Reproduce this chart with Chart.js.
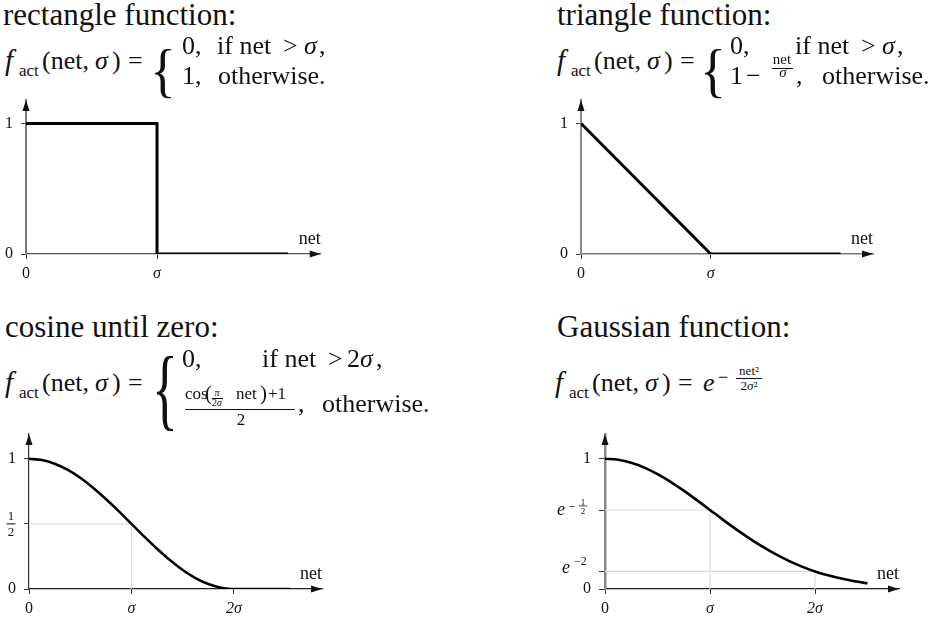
<!DOCTYPE html>
<html><head><meta charset="utf-8">
<script src="https://cdn.jsdelivr.net/npm/chart.js@4.4.1/dist/chart.umd.min.js"></script>
<style>
html,body{margin:0;padding:0;background:#fff;}
#page{position:relative;width:941px;height:626px;overflow:hidden;font-family:"Liberation Serif",serif;color:#111;}
.t{position:absolute;white-space:pre;}
.bar{position:absolute;height:0;border-top:1px solid #111;}
.box{position:absolute;}
</style></head><body><div id="page">
<div class="box" style="left:0;top:90px"><canvas id="c1" width="340" height="190"></canvas></div>
<div class="box" style="left:550px;top:90px"><canvas id="c2" width="340" height="190"></canvas></div>
<div class="box" style="left:0;top:425px"><canvas id="c3" width="340" height="190"></canvas></div>
<div class="box" style="left:550px;top:425px"><canvas id="c4" width="370" height="190"></canvas></div>
</div>
<script>
// ---------------- data ----------------
const rectNet = [0, 1, 1, 2];
const rectAct = [1, 1, 0, 0];
const triNet = [0, 1, 2];
const triAct = [1, 0, 0];
const cosNet = [0, 0.125, 0.25, 0.375, 0.5, 0.625, 0.75, 0.875, 1, 1.125, 1.25, 1.375, 1.5, 1.625, 1.75, 1.875, 2, 2.25, 2.55];
const cosAct = [1, 0.990, 0.962, 0.916, 0.854, 0.778, 0.691, 0.598, 0.5, 0.402, 0.309, 0.222, 0.146, 0.084, 0.038, 0.010, 0, 0, 0];
const gaussNet = [0, 0.125, 0.25, 0.375, 0.5, 0.625, 0.75, 0.875, 1, 1.125, 1.25, 1.375, 1.5, 1.625, 1.75, 1.875, 2, 2.125, 2.25, 2.375, 2.5];
const gaussAct = [1, 0.992, 0.969, 0.932, 0.882, 0.823, 0.755, 0.682, 0.607, 0.531, 0.458, 0.389, 0.325, 0.267, 0.216, 0.172, 0.135, 0.105, 0.080, 0.060, 0.044];

const sigmaTicks = [0, 1];        const sigmaTickLabels = ['0', 'σ'];
const twoSigmaTicks = [0, 1, 2];  const twoSigmaTickLabels = ['0', 'σ', '2σ'];
const unitTicks = [0, 1];         const unitTickLabels = ['0', '1'];
const cosYTicks = [0, 0.5, 1];    const cosYTickLabels = ['0', '1/2', '1'];
const gaussYTicks = [0, 0.1353, 0.6065, 1]; const gaussYTickLabels = ['0', 'e^-2', 'e^-1/2', '1'];
const cosGuideNet = [1];          const cosGuideAct = [0.5];
const gaussGuideNet = [1, 2];     const gaussGuideAct = [0.6065, 0.1353];
const xAxisTitle = 'net';

// ---------------- text (HTML) ----------------
const page = document.getElementById('page');
function put(x, base, size, html, it) {
  const d = document.createElement('div');
  d.className = 't';
  d.innerHTML = html;
  d.style.left = x + 'px';
  d.style.top = (base - 0.8375 * size) + 'px';
  d.style.fontSize = size + 'px';
  d.style.lineHeight = size + 'px';
  if (it) d.style.fontStyle = 'italic';
  page.appendChild(d);
  return d;
}
function putC(cx, base, size, html, it) {
  const d = put(cx, base, size, html, it);
  d.style.transform = 'translateX(-50%)';
  return d;
}
function bar(x1, x2, y) {
  const d = document.createElement('div');
  d.className = 'bar';
  d.style.left = x1 + 'px'; d.style.width = (x2 - x1) + 'px'; d.style.top = y + 'px';
  page.appendChild(d);
}
function brace(cx, top, bottom) {
  const s = 30, sx = 1.8, sy = (bottom - top) / (0.864 * s);
  const d = put(cx - 0.225 * s * sx, 0, s, '{');
  d.style.top = (top - 0.0545 * s * sy) + 'px';
  d.style.transformOrigin = '0 0';
  d.style.transform = 'scale(' + sx + ',' + sy + ')';
}
function lhs(x0, base) {
  put(x0, base, 29, 'f', true);
  put(x0 + 14, base + 6, 17, 'act');
  put(x0 + 37, base, 26, '(net,');
  put(x0 + 90, base, 26, 'σ', true);
  put(x0 + 107, base, 26, ')');
  put(x0 + 123, base, 26, '=');
}
// rectangle
put(3, 25, 31, 'rectangle function:');
lhs(5, 70);
brace(162, 43, 95);
put(182, 55, 26, '0,'); put(217, 55, 26, 'if net'); put(283, 55, 26, '&gt;'); put(304, 55, 26, 'σ', true); put(319, 55, 26, ',');
put(182, 85, 26, '1,'); put(218, 85, 26, 'otherwise.');
// triangle
put(557, 25, 31, 'triangle function:');
lhs(557, 70);
brace(712, 43, 95);
put(730, 55, 26, '0,'); put(795, 55, 26, 'if net'); put(861, 55, 26, '&gt;'); put(882, 55, 26, 'σ', true); put(897, 55, 26, ',');
put(730, 85, 26, '1'); put(746, 85, 26, '−');
putC(782, 65, 15, 'net'); bar(772, 793, 68); putC(783, 78, 15, 'σ', true);
put(796, 85, 26, ','); put(822, 85, 26, 'otherwise.');
// cosine
put(5, 337, 31, 'cosine until zero:');
lhs(5, 392);
brace(164, 348, 427);
put(182, 368, 26, '0,'); put(262, 368, 26, 'if net'); put(328, 368, 26, '&gt;'); put(347, 368, 26, '2'); put(360, 368, 26, 'σ', true); put(376, 368, 26, ',');
put(185, 399, 17, 'cos'); put(205, 401, 21, '(');
putC(217, 396, 10, 'π', true); bar(212, 223, 398); putC(217, 406, 10, '2<i>σ</i>');
put(236, 399, 17, 'net'); put(260, 401, 21, ')'); put(268, 399, 17, '+1');
bar(185, 295, 409);
putC(241, 425, 17, '2');
put(298, 413, 26, ','); put(322, 413, 26, 'otherwise.');
// gaussian
put(557, 337, 31, 'Gaussian function:');
lhs(555, 392);
put(703, 392, 26, 'e', true);
put(718, 383, 18, '−');
putC(749, 375, 13, 'net²'); bar(736, 762, 378); putC(749, 390, 13, '2<i>σ</i>²');

// ---------------- charts ----------------
Chart.defaults.font.family = '"Liberation Serif", serif';
const FONT = '"Liberation Serif"';

function drawSpecial(ctx, label, A, T) {
  ctx.save();
  ctx.fillStyle = '#111';
  ctx.textBaseline = 'alphabetic';
  if (label === '1/2') {
    const cx = A - 18;
    ctx.font = '13px ' + FONT; ctx.textAlign = 'center';
    ctx.fillText('1', cx, T - 4);
    ctx.fillRect(cx - 4.5, T - 0.5, 9, 1);
    ctx.fillText('2', cx, T + 12);
  } else if (label === 'e^-1/2') {
    ctx.textAlign = 'left';
    ctx.font = 'italic 18px ' + FONT; ctx.fillText('e', A - 48, T + 5);
    ctx.font = '13px ' + FONT; ctx.fillText('−', A - 37, T + 1);
    ctx.font = '9px ' + FONT; ctx.textAlign = 'center';
    ctx.fillText('1', A - 22, T - 5);
    ctx.fillRect(A - 26, T - 4.5, 8, 0.8);
    ctx.fillText('2', A - 22, T + 4);
  } else if (label === 'e^-2') {
    ctx.textAlign = 'left';
    ctx.font = 'italic 18px ' + FONT; ctx.fillText('e', A - 43, T + 2);
    ctx.font = '12px ' + FONT; ctx.fillText('−2', A - 31, T - 6);
  }
  ctx.restore();
}

const decor = {
  id: 'decor',
  afterDraw(chart, args, o) {
    const ctx = chart.ctx, a = chart.chartArea;
    ctx.save();
    ctx.fillStyle = '#111';
    ctx.beginPath();
    ctx.moveTo(a.right, a.bottom); ctx.lineTo(a.right - 11, a.bottom - 3.5); ctx.lineTo(a.right - 11, a.bottom + 3.5);
    ctx.closePath(); ctx.fill();
    ctx.beginPath();
    ctx.moveTo(a.left, a.top); ctx.lineTo(a.left - 3.5, a.top + 11); ctx.lineTo(a.left + 3.5, a.top + 11);
    ctx.closePath(); ctx.fill();
    ctx.font = '18px ' + FONT; ctx.textAlign = 'right'; ctx.textBaseline = 'alphabetic';
    ctx.fillText(o.title, a.right, a.bottom - 10);
    ctx.restore();
    const ys = chart.scales.y;
    o.yTicks.forEach((v, i) => {
      const lab = o.yLabels[i];
      if (lab.includes('/') || lab.includes('^')) drawSpecial(ctx, lab, a.left, ys.getPixelForValue(v));
    });
  }
};

function pts(xs, ys) { return xs.map((x, i) => ({x: x, y: ys[i]})); }
function guideSets(gx, gy) {
  const st = {showLine: true, borderColor: '#dcdcdc', borderWidth: 1.2, pointRadius: 0};
  const out = [];
  gx.forEach((x, i) => {
    out.push(Object.assign({data: [{x: 0, y: gy[i]}, {x: x, y: gy[i]}]}, st));
    out.push(Object.assign({data: [{x: x, y: 0}, {x: x, y: gy[i]}]}, st));
  });
  return out;
}
function tickFont(labels) {
  return (c) => ({family: FONT, size: 16, style: (labels[c.index] || '').includes('σ') ? 'italic' : 'normal'});
}
function noPad(s) { s.paddingTop = 0; s.paddingBottom = 0; s.paddingLeft = 0; s.paddingRight = 0; }
function panel(id, p) {
  return new Chart(document.getElementById(id), {
    type: 'scatter',
    data: {datasets: [
      {data: pts(p.net, p.act), showLine: true, borderColor: '#000', borderWidth: p.lw, pointRadius: 0,
       tension: 0, cubicInterpolationMode: p.smooth ? 'monotone' : 'default', borderJoinStyle: 'miter', borderCapStyle: 'butt'}
    ].concat(guideSets(p.gx || [], p.gy || []))},
    options: {
      responsive: false, animation: false, events: [],
      layout: {padding: {top: p.padTop, right: p.padRight, left: 0, bottom: 0}},
      plugins: {legend: {display: false}, tooltip: {enabled: false},
        decor: {title: xAxisTitle, yTicks: p.yTicks, yLabels: p.yLabels}},
      scales: {
        x: {type: 'linear', min: 0, max: p.xMax,
          afterBuildTicks: s => { s.ticks = p.xTicks.map(v => ({value: v})); },
          afterFit: s => { s.height = 26; noPad(s); },
          grid: {drawOnChartArea: false, drawTicks: true, tickLength: 5, tickColor: '#333', tickWidth: 1, lineWidth: 1},
          border: {display: true, color: p.xAxisColor, width: p.xAxisWidth},
          ticks: {autoSkip: false, maxRotation: 0, padding: 5, color: '#111', font: tickFont(p.xLabels),
            callback: (v, i) => p.xLabels[i]}
        },
        y: {type: 'linear', min: 0, max: p.yMax,
          afterBuildTicks: s => { s.ticks = p.yTicks.map(v => ({value: v})); },
          afterFit: s => { s.width = p.yWidth; noPad(s); },
          grid: {drawOnChartArea: false, drawTicks: true, tickLength: p.yTickLen || 5, tickColor: '#333', tickWidth: 1, lineWidth: 1},
          border: {display: true, color: p.yAxisColor, width: p.yAxisWidth},
          ticks: {autoSkip: false, padding: 8, color: '#111', font: {family: FONT, size: 16},
            callback: (v, i) => { const l = p.yLabels[i]; return (l.includes('/') || l.includes('^')) ? '' : l; }}
        }
      }
    },
    plugins: [decor]
  });
}

panel('c1', {net: rectNet, act: rectAct, lw: 3, smooth: false,
  xTicks: sigmaTicks, xLabels: sigmaTickLabels, yTicks: unitTicks, yLabels: unitTickLabels,
  xMax: 2.25, yMax: 1.18, padTop: 10, padRight: 19.25, yWidth: 26,
  xAxisColor: '#555', xAxisWidth: 1.2, yAxisColor: '#777', yAxisWidth: 2});
panel('c2', {net: triNet, act: triAct, lw: 3, smooth: false,
  xTicks: sigmaTicks, xLabels: sigmaTickLabels, yTicks: unitTicks, yLabels: unitTickLabels,
  xMax: 2.25, yMax: 1.18, padTop: 10, padRight: 17, yWidth: 31,
  xAxisColor: '#777', xAxisWidth: 1.5, yAxisColor: '#888', yAxisWidth: 2});
panel('c3', {net: cosNet, act: cosAct, lw: 2.6, smooth: true, gx: cosGuideNet, gy: cosGuideAct,
  xTicks: twoSigmaTicks, xLabels: twoSigmaTickLabels, yTicks: cosYTicks, yLabels: cosYTickLabels,
  xMax: 2.86, yMax: 1.19, padTop: 9, padRight: 18, yWidth: 29,
  xAxisColor: '#222', xAxisWidth: 1.2, yAxisColor: '#333', yAxisWidth: 1.2});
panel('c4', {net: gaussNet, act: gaussAct, lw: 2.6, smooth: true, gx: gaussGuideNet, gy: gaussGuideAct,
  xTicks: twoSigmaTicks, xLabels: twoSigmaTickLabels, yTicks: gaussYTicks, yLabels: gaussYTickLabels,
  xMax: 2.8, yMax: 1.19, padTop: 9, padRight: 21, yWidth: 55, yTickLen: 6,
  xAxisColor: '#222', xAxisWidth: 1.2, yAxisColor: '#888', yAxisWidth: 2.5});
</script></body></html>
